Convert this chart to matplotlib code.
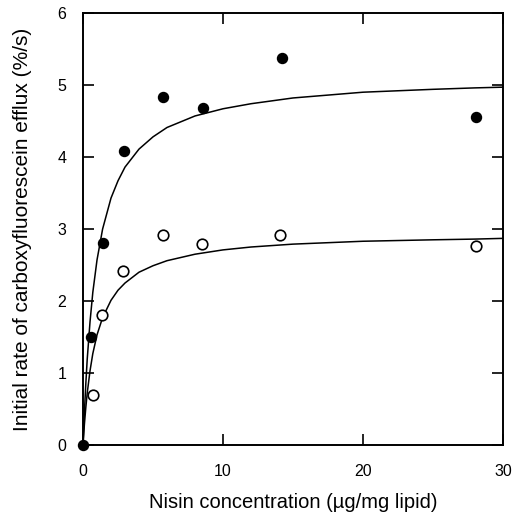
import matplotlib
matplotlib.use("Agg")
import matplotlib.pyplot as plt

plt.rcParams['font.family'] = ['Liberation Sans', 'DejaVu Sans']

# Data points
filled_x = [0, 0.6, 1.4, 2.9, 5.7, 8.6, 14.2, 28.1]
filled_y = [0, 1.5, 2.8, 4.08, 4.84, 4.68, 5.38, 4.56]
open_x = [0.7, 1.35, 2.85, 5.7, 8.5, 14.1, 28.1]
open_y = [0.70, 1.80, 2.41, 2.92, 2.79, 2.92, 2.77]

# Fitted curves
curve_x = [0, 0.1, 0.2, 0.3, 0.5, 0.7, 1.0, 1.4, 2, 2.5, 3, 4, 5, 6, 8, 10, 12, 15, 20, 25, 28, 30]
curve_filled_y = [0, 0.46, 0.85, 1.19, 1.71, 2.12, 2.57, 3.0, 3.43, 3.67, 3.86, 4.11, 4.28, 4.41,
                  4.57, 4.67, 4.74, 4.82, 4.90, 4.94, 4.96, 4.97]
curve_open_y = [0, 0.29, 0.52, 0.72, 1.03, 1.27, 1.53, 1.77, 2.01, 2.15, 2.25, 2.40, 2.49, 2.56,
                2.65, 2.71, 2.75, 2.79, 2.83, 2.85, 2.86, 2.87]

xticks = [0, 10, 20, 30]
yticks = [0, 1, 2, 3, 4, 5, 6]
xlabel = "Nisin concentration (\u00b5g/mg lipid)"
ylabel = "Initial rate of carboxyfluorescein efflux (%/s)"

fig = plt.figure(figsize=(5.14, 5.20), dpi=100)
ax = fig.add_axes([0.1615, 0.1442, 0.8171, 0.8308])

ax.plot(curve_x, curve_filled_y, color='black', lw=1.1)
ax.plot(curve_x, curve_open_y, color='black', lw=1.1)
ax.plot(filled_x, filled_y, 'o', color='black', ms=7.2, clip_on=False, zorder=3)
ax.plot(open_x, open_y, 'o', mfc='white', mec='black', mew=1.2, ms=7.6, clip_on=False, zorder=3)

ax.set_xlim(0, 30)
ax.set_ylim(0, 6)
ax.set_xticks(xticks)
ax.set_yticks(yticks)
ax.tick_params(direction='in', length=8, width=1.2, top=True, right=True, labelsize=11.5)
ax.tick_params(axis='x', pad=14)
ax.tick_params(axis='y', pad=12)
for s in ax.spines.values():
    s.set_linewidth(1.4)

ax.set_xlabel(xlabel, fontsize=14.5, labelpad=10)
ax.set_ylabel(ylabel, fontsize=15, labelpad=18)

fig.savefig("out.png", dpi=100)
